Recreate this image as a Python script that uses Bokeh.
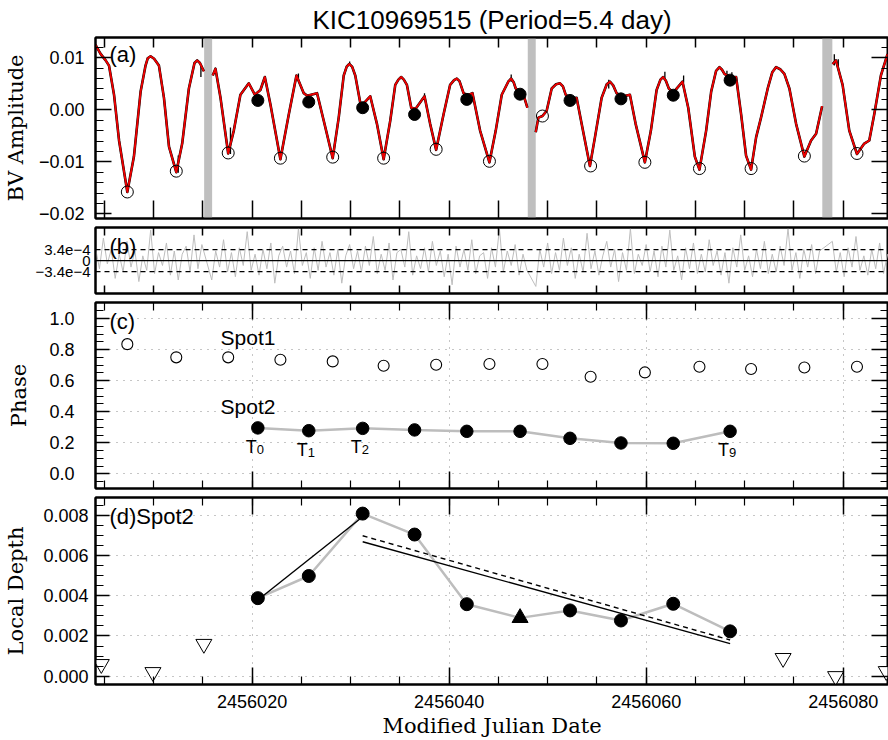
import numpy as np
from bokeh.plotting import figure
from bokeh.layouts import column
from bokeh.models import (Range1d, LinearAxis, SingleIntervalTicker, FixedTicker,
                          CustomJSTickFormatter, BoxAnnotation, Span, Label, Grid)
from bokeh.core.properties import value
from bokeh.embed import file_html
from bokeh.resources import INLINE

MJD0 = 2456000.0
TITLE = "KIC10969515 (Period=5.4 day)"

# ---------------- panel (a): light curve (days since MJD0, BV amplitude) -------------
lc1_day = [4.1, 4.6, 5.13, 5.47, 5.98, 6.49, 7.33, 8.0, 8.68, 9.18,
           9.4, 9.69, 10.05, 10.54, 11.05, 11.56, 12.30, 12.9, 13.58, 14.15,
           14.42, 14.7, 15.1]
lc1_amp = [0.0125, 0.0108, 0.0095, 0.0085, 0.0029, -0.0059, -0.0158, -0.0090, 0.0035, 0.0085,
           0.0099, 0.0103, 0.0098, 0.0085, 0.0023, -0.0071, -0.0120, -0.0065, 0.0041, 0.0090,
           0.0095, 0.0090, 0.0074]
lc2_day = [16.0, 16.28, 16.79, 17.57, 18.14, 18.81, 19.66, 20.27, 20.84, 21.29,
           21.86, 22.87, 23.72, 24.5, 25.24, 25.6, 26.59, 27.27, 28.18, 28.79,
           29.3, 29.6, 29.86, 30.15, 30.47, 30.98, 31.3, 31.99, 32.67, 33.35, 34.02, 34.53,
           34.85, 35.13, 35.4, 35.71, 36.15, 36.6, 37.5, 38.07, 38.68, 39.43, 40.1, 40.5,
           40.78, 41.05,
           41.46, 41.9, 42.37, 43.14, 44.09, 44.73, 45.34, 46.0, 46.29, 46.55, 46.76, 47.3,
           47.64, 47.94]
lc2_amp = [0.0066, 0.0079, 0.0023, -0.0084, -0.0040, 0.0029, 0.0051, 0.0029, 0.0038, 0.0063,
           0.0010, -0.0095, -0.0009, 0.0066, 0.0032, 0.0027, 0.0032, -0.0021, -0.0093, -0.0015,
           0.0066, 0.0083, 0.0088, 0.0083, 0.0066, 0.0013, 0.0012, 0.0026, -0.0027, -0.0095,
           -0.0021, 0.0048,
           0.0058, 0.0063, 0.0058, 0.0048, 0.0004, 0.0002, 0.0026, -0.0027, -0.0077, -0.0009,
           0.0048, 0.0057, 0.0060, 0.0055,
           0.0032, 0.0028, 0.0032, -0.0040, -0.0101, -0.0040, 0.0029, 0.0054, 0.0060, 0.0053,
           0.0041, 0.0032,
           0.0023, 0.0004]
lc3_day = [48.79, 49.06, 49.47, 49.9, 50.41, 50.85, 51.25, 51.55, 51.83, 52.3, 52.94, 53.45,
           54.29, 54.8, 55.48, 56.0, 56.32, 56.65, 57.0, 57.5, 58.35, 58.93, 59.87, 60.48,
           61.06, 61.45, 61.73, 62.0, 62.3, 62.75, 63.69, 64.27, 64.94, 65.41, 66.09, 66.6,
           67.1, 67.44, 67.7, 67.95, 68.52, 69.13, 69.64, 70.14, 70.65, 71.16, 71.66, 72.34,
           72.8, 73.19,
           73.6, 74.03, 74.54, 75.22, 76.06, 76.74, 77.25, 77.86]
lc3_amp = [-0.0043, -0.0015, -0.0012, -0.0002, 0.0041, 0.0049, 0.0051, 0.0045, 0.0029, 0.0022,
           0.0023, -0.0027,
           -0.0108, -0.0053, 0.0023, 0.0049, 0.0054, 0.0047, 0.0032, 0.0025, 0.0029, -0.0027,
           -0.0101, -0.0040,
           0.0038, 0.0058, 0.0063, 0.0056, 0.0041, 0.0033, 0.0054, 0.0004, -0.0090, -0.0115,
           -0.0040, 0.0035,
           0.0075, 0.0082, 0.0077, 0.0069, 0.0062, 0.0063, -0.0009, -0.0088, -0.0115, -0.0053,
           -0.0015, 0.0041, 0.0072, 0.0082,
           0.0078, 0.0069, 0.0041, -0.0027, -0.0090, -0.0059, -0.0046, 0.0007]
lc4_day = [78.93, 79.27, 79.94, 80.62, 81.4, 82.14, 82.65, 83.15, 83.83, 84.5]
lc4_amp = [0.0088, 0.0095, 0.0048, -0.0040, -0.0085, -0.0065, -0.0059, -0.0009, 0.0066, 0.0107]

# short excursions of the observed curve above/below the model
spike_day = [12.5, 14.8, 17.8, 24.7, 29.9, 37.5, 46.3, 56.2, 61.9, 63.8, 68.2, 68.7, 79.1, 79.5]
spike_lo = [-0.0121, 0.0063, -0.0085, 0.0060, 0.0086, 0.0022, 0.0054, 0.0041, 0.0058, 0.0052,
            0.0055, 0.0050, 0.0085, 0.0080]
spike_hi = [-0.0088, 0.0088, -0.0034, 0.0070, 0.0093, 0.0032, 0.0068, 0.0058, 0.0073, 0.0066,
            0.0075, 0.0072, 0.0107, 0.0097]

# data gaps (days since MJD0)
gap_start = [15.13, 47.98, 77.88]
gap_end = [15.94, 48.79, 78.90]

# spot 1 (light-curve minima) and spot 2 (shoulders)
spot1_day = [7.33, 12.30, 17.57, 22.87, 28.18, 33.35, 38.68, 44.09, 49.47, 54.36,
             59.87, 65.41, 70.65, 76.06, 81.40]
spot1_amp = [-0.0158, -0.0118, -0.0083, -0.0093, -0.0091, -0.0093, -0.0076, -0.0099, -0.0012,
             -0.0108, -0.0101, -0.0113, -0.0113, -0.0089, -0.0084]
spot1_phase = [0.835, 0.75, 0.75, 0.735, 0.724, 0.696, 0.702, 0.707, 0.707, 0.625,
               0.653, 0.690, 0.675, 0.685, 0.690]
spot2_day = [20.58, 25.75, 31.22, 36.49, 41.79, 47.2, 52.27, 57.44, 62.75, 68.52]
spot2_amp = [0.0018, 0.0015, 0.0004, -0.0009, 0.0020, 0.0030, 0.0018, 0.0021, 0.0028, 0.0057]
spot2_phase = [0.296, 0.278, 0.293, 0.283, 0.274, 0.274, 0.229, 0.199, 0.197, 0.274]
spot2_depth = [0.00388, 0.00498, 0.00808, 0.00704, 0.00358, 0.00290, 0.00327, 0.00277,
               0.00360, 0.00223]
TRI_INDEX = 5
t_label_index = [0, 1, 2, 9]
t_label_sub = ["0", "1", "2", "9"]

# spot1 local depth (open triangles)
spot1_depth_day = [4.69, 9.93, 15.10, 73.9, 79.23, 84.37]
spot1_depth = [0.0006, 0.0002, 0.0016, 0.0009, 0.0000, 0.00025]

# linear fits in panel (d)
fit1_day = [20.58, 31.22]
fit1_depth = [0.00379, 0.00792]
fit2_day = [31.22, 68.52]
fit2_depth = [0.00668, 0.00162]
fit3_day = [31.22, 68.52]
fit3_depth = [0.00698, 0.00180]

# ---------------- panel (b): residuals (units of 1e-5) --------------------------------
res_day = [4.1, 4.5, 4.9, 5.3, 5.7, 6.1, 6.5, 6.9, 7.3, 7.7, 8.1, 8.5, 8.9, 9.3, 9.7, 10.1,
           10.5, 10.9, 11.3, 11.7, 12.1, 12.5, 12.9, 13.3, 13.7, 14.1, 14.5, 14.9,
           15.9, 16.3, 16.7, 17.1, 17.5, 17.9, 18.3, 18.7, 19.1, 19.5,
           19.9, 20.3, 20.7, 21.1, 21.5, 21.9, 22.3, 22.7, 23.1, 23.5,
           23.9, 24.3, 24.7, 25.1, 25.5, 25.9, 26.3, 26.7, 27.1, 27.5,
           27.9, 28.3, 28.7, 29.1, 29.5, 29.9, 30.3, 30.7, 31.1, 31.5,
           31.9, 32.3, 32.7, 33.1, 33.5, 33.9, 34.3, 34.7, 35.1, 35.5,
           35.9, 36.3, 36.7, 37.1, 37.5, 37.9, 38.3, 38.7, 39.1, 39.5,
           39.9, 40.3, 40.7, 41.1, 41.5, 41.9, 42.3, 42.7, 43.1, 43.5,
           43.9, 44.3, 44.7, 45.1, 45.5, 45.9, 46.3, 46.7, 47.1, 47.5, 47.9,
           48.8, 49.2, 49.6, 50.0, 50.4, 50.8, 51.2, 51.6, 52.0, 52.4,
           52.8, 53.2, 53.6, 54.0, 54.4, 54.8, 55.2, 55.6, 56.0, 56.4,
           56.8, 57.2, 57.6, 58.0, 58.4, 58.8, 59.2, 59.6, 60.0, 60.4,
           60.8, 61.2, 61.6, 62.0, 62.4, 62.8, 63.2, 63.6, 64.0, 64.4,
           64.8, 65.2, 65.6, 66.0, 66.4, 66.8, 67.2, 67.6, 68.0, 68.4,
           68.8, 69.2, 69.6, 70.0, 70.4, 70.8, 71.2, 71.6, 72.0, 72.4,
           72.8, 73.2, 73.6, 74.0, 74.4, 74.8, 75.2, 75.6, 76.0, 76.4,
           76.8, 77.2, 77.6,
           78.9, 79.3, 79.7, 80.1, 80.5, 80.9, 81.3, 81.7, 82.1, 82.5, 82.9, 83.3, 83.7, 84.1, 84.5]
res_val = [40, -25, 70, -10, 35, -55, 20, -35, 60, -20, 30, -65, 15, -30, 95, -40, 25, -15,
           55, -45, 30, -60, 20, 45, -35, 80, -25, 50,
           -60, 30, -20, 65, -35, 25, -50, 40, -15, 90,
           -30, 20, -45, 35, -25, 55, -70, 15, 45, -20,
           30, -40, 100, -15, 25, -55, 40, -30, 60, -20,
           25, -45, 35, -70, 15, 50, -25, 30, -35, 45,
           -15, 75, -40, 20, -30, 55, -60, 25, 35, -20,
           90, -45, 15, -25, 40, -35, 60, -15, 30, -50,
           20, -75, 45, -20, 35, -30, 65, -40, 15, 25,
           -55, 40, -20, 100, -35, 30, -15, 50, -45, 20, -30,
           -80, 35, -20, 55, -40, 25, -30, 70, -15, 40,
           -55, 20, -35, 85, -25, 30, -45, 15, 60, -20,
           35, -65, 25, -30, 100, -40, 20, -15, 50, -35,
           30, -50, 45, -20, 95, -30, 15, -60, 40, -25,
           55, -40, 20, -35, 65, -15, 30, -45, 25, -70,
           40, -20, 80, -30, 15, -50, 35, -25, 60, -40,
           20, -35, 45, -15, 100, -30, 25, -55, 35, -20,
           50, -40, 30,
           60, -35, 25, -50, 40, -20, 75, -30, 15, -45, 35, -25, 55, -40, 20]
RES_SIGMA = 3.4e-4

# ---------------- styling ------------------------------------------------------------
SANS = "Liberation Sans"
SERIF = "DejaVu Serif"
W = 888
X_START, X_END = MJD0 + 4.1, MJD0 + 84.6
PX_DAY = (W - 93) / (X_END - X_START)
xr = Range1d(X_START, X_END)


def days(lst):
    return [MJD0 + d for d in lst]


def base_fig(height, y_range, top, bottom):
    p = figure(width=W, height=height, x_range=xr, y_range=y_range,
               x_axis_location=None, y_axis_location=None,
               output_backend="svg", toolbar_location=None,
               min_border_left=93, min_border_right=0,
               min_border_top=top, min_border_bottom=bottom)
    p.xgrid.visible = False
    p.ygrid.visible = False
    p.outline_line_color = "black"
    p.outline_line_width = 2
    p.background_fill_color = "white"
    p.border_fill_color = "white"
    return p


BLANK = "return ''"


def add_axis(p, side, ticker, major_in, minor_in, code=None, font_size="18px",
             standoff=8, label=None, label_standoff=10):
    ax = LinearAxis(ticker=ticker)
    ax.major_tick_in = major_in
    ax.major_tick_out = 0
    ax.minor_tick_in = minor_in
    ax.minor_tick_out = 0
    ax.axis_line_color = "black"
    ax.axis_line_width = 2
    ax.major_tick_line_color = "black"
    ax.major_tick_line_width = 1.5
    ax.minor_tick_line_color = "black"
    ax.minor_tick_line_width = 1.2
    if code is None:
        ax.formatter = CustomJSTickFormatter(code=BLANK)
        ax.major_label_text_font_size = "1px"
        ax.major_label_standoff = 0
    else:
        ax.formatter = CustomJSTickFormatter(code=code)
        ax.major_label_text_font = SANS
        ax.major_label_text_font_size = font_size
        ax.major_label_text_color = "black"
        ax.major_label_standoff = standoff
    if label is not None:
        ax.axis_label = label
        ax.axis_label_text_font = SERIF
        ax.axis_label_text_font_size = "21px"
        ax.axis_label_text_font_style = "normal"
        ax.axis_label_text_color = "black"
        ax.axis_label_standoff = label_standoff
    p.add_layout(ax, side)
    return ax


def panel_tag(p, text, y):
    p.add_layout(Label(x=X_START + 14 / PX_DAY, y=y, text=text, text_font=SANS,
                       text_font_size="22px", text_baseline="top", text_align="left",
                       text_color="black"))


AMP_FMT = "return (tick < 0 ? '\u2212' : '') + Math.abs(tick).toFixed(2);"
RES_FMT = ("if (Math.abs(tick) < 1e-12) return '0';"
           "return (tick < 0 ? '\u2212' : '') + (Math.abs(tick) / 1e-4).toFixed(1) + 'e\u22124';")

# ---------------- (a) ----------------------------------------------------------------
pa = base_fig(226, Range1d(-0.0209, 0.0139), 32, 8)
pa.title.text = TITLE
pa.title.text_font = SANS
pa.title.text_font_size = "26px"
pa.title.text_font_style = "normal"
pa.title.text_color = "black"
pa.title.align = "center"
pa.title.standoff = 5
add_axis(pa, "below", SingleIntervalTicker(interval=5, num_minor_ticks=0), 18, 0)
add_axis(pa, "above", SingleIntervalTicker(interval=5, num_minor_ticks=0), 10, 0)
add_axis(pa, "left", SingleIntervalTicker(interval=0.01, num_minor_ticks=5), 16, 8,
         code=AMP_FMT, standoff=11, label="BV Amplitude", label_standoff=8)
add_axis(pa, "right", SingleIntervalTicker(interval=0.01, num_minor_ticks=5), 17, 7)
for gs, ge in zip(gap_start, gap_end):
    pa.add_layout(BoxAnnotation(left=MJD0 + gs, right=MJD0 + ge, fill_color="#bfbfbf",
                                fill_alpha=1.0, line_alpha=0, level="underlay"))
seg_x = [days(lc1_day), days(lc2_day), days(lc3_day), days(lc4_day)]
seg_y = [lc1_amp, lc2_amp, lc3_amp, lc4_amp]
pa.multi_line(seg_x, seg_y, line_color="black", line_width=2.6, line_join="round")
pa.segment(x0=days(spike_day), y0=spike_lo, x1=days(spike_day), y1=spike_hi,
           line_color="black", line_width=1.3)
pa.multi_line(seg_x, seg_y, line_color="#ee0000", line_width=1.9, line_join="round")
pa.scatter(days(spot1_day), spot1_amp, marker="circle", size=12, fill_color=None,
           line_color="black", line_width=1)
pa.scatter(days(spot2_day), spot2_amp, marker="circle", size=12, fill_color="black",
           line_color="black")
panel_tag(pa, "(a)", 0.0139 - 5 * 0.0348 / 186)

# ---------------- (b) ----------------------------------------------------------------
pb = base_fig(71, Range1d(-1.02e-3, 1.03e-3), 1, 4)
add_axis(pb, "below", SingleIntervalTicker(interval=5, num_minor_ticks=0), 8, 0)
add_axis(pb, "above", SingleIntervalTicker(interval=5, num_minor_ticks=0), 8, 0)
add_axis(pb, "left", FixedTicker(ticks=[-RES_SIGMA, 0.0, RES_SIGMA]), 0, 0,
         code=RES_FMT, font_size="15px", standoff=5)
pb.line(days(res_day), [v * 1e-5 for v in res_val], line_color="#bdbdbd", line_width=1)
for loc in (RES_SIGMA, -RES_SIGMA):
    pb.add_layout(Span(location=loc, dimension="width", line_color="black",
                       line_dash="5 4", line_width=1.2))
pb.add_layout(Span(location=0, dimension="width", line_color="black", line_width=1.2))
panel_tag(pb, "(b)", 1.03e-3 - 6.5 * 2.05e-3 / 66)

# ---------------- (c) ----------------------------------------------------------------
pc = base_fig(196, Range1d(-0.094, 1.103), 5, 5)
xt_c = SingleIntervalTicker(interval=20, num_minor_ticks=4)
yt_c = SingleIntervalTicker(interval=0.2, num_minor_ticks=4)
add_axis(pc, "below", xt_c, 17, 8)
add_axis(pc, "above", xt_c, 17, 8)
add_axis(pc, "left", yt_c, 14, 8, code="return tick.toFixed(1);", standoff=21,
         label="Phase", label_standoff=15)
add_axis(pc, "right", yt_c, 17, 8)
for dim, tk in ((0, xt_c), (1, yt_c)):
    pc.add_layout(Grid(dimension=dim, ticker=tk, grid_line_color="#8c8c8c",
                       grid_line_dash="1 6", grid_line_width=1))
pc.line(days(spot2_day), spot2_phase, line_color="#bdbdbd", line_width=2.5)
pc.scatter(days(spot1_day), spot1_phase, marker="circle", size=11, fill_color="white",
           line_color="black", line_width=1.1)
pc.scatter(days(spot2_day), spot2_phase, marker="circle", size=12.5, fill_color="black",
           line_color="black")
pc.add_layout(Label(x=MJD0 + 16.8, y=0.804, text="Spot1", text_font=SANS,
                    text_font_size="21px", text_color="black"))
pc.add_layout(Label(x=MJD0 + 16.8, y=0.357, text="Spot2", text_font=SANS,
                    text_font_size="21px", text_color="black"))
tx = [MJD0 + spot2_day[i] for i in t_label_index]
ty = [spot2_phase[i] for i in t_label_index]
pc.text(tx, ty, text=["T"] * len(tx), text_font=value(SANS), text_font_size="18px",
        text_align="left", text_baseline="top", x_offset=-12, y_offset=9,
        text_color="black")
pc.text(tx, ty, text=t_label_sub, text_font=value(SANS), text_font_size="13px",
        text_align="left", text_baseline="top", x_offset=-1, y_offset=17,
        text_color="black")
panel_tag(pc, "(c)", 1.103 - 6 * 1.197 / 186)

# ---------------- (d) ----------------------------------------------------------------
pd_ = base_fig(247, Range1d(-0.00041, 0.00888), 4, 55)
xt_d = SingleIntervalTicker(interval=20, num_minor_ticks=4)
yt_d = SingleIntervalTicker(interval=0.002, num_minor_ticks=4)
add_axis(pd_, "below", xt_d, 17, 8, code="return tick.toFixed(0);", standoff=10,
         label="Modified Julian Date", label_standoff=3)
add_axis(pd_, "above", xt_d, 17, 8)
add_axis(pd_, "left", yt_d, 14, 8, code="return tick.toFixed(3);", standoff=7,
         label="Local Depth", label_standoff=12)
add_axis(pd_, "right", yt_d, 17, 8)
for dim, tk in ((0, xt_d), (1, yt_d)):
    pd_.add_layout(Grid(dimension=dim, ticker=tk, grid_line_color="#8c8c8c",
                        grid_line_dash="1 6", grid_line_width=1))
pd_.line(days(spot2_day), spot2_depth, line_color="#bdbdbd", line_width=2.5)
pd_.line(days(fit1_day), fit1_depth, line_color="black", line_width=1.4)
pd_.line(days(fit2_day), fit2_depth, line_color="black", line_width=1.4)
pd_.line(days(fit3_day), fit3_depth, line_color="black", line_width=1.4, line_dash="5 4")
circ_x = [MJD0 + d for i, d in enumerate(spot2_day) if i != TRI_INDEX]
circ_y = [v for i, v in enumerate(spot2_depth) if i != TRI_INDEX]
pd_.scatter(circ_x, circ_y, marker="circle", size=13, fill_color="black", line_color="black")
pd_.scatter([MJD0 + spot2_day[TRI_INDEX]], [spot2_depth[TRI_INDEX]], marker="triangle",
            size=16, fill_color="black", line_color="black")
pd_.scatter(days(spot1_depth_day), spot1_depth, marker="inverted_triangle", size=16,
            fill_color="white", line_color="black", line_width=1)
panel_tag(pd_, "(d)Spot2", 0.00888 - 7 * 0.00929 / 188)

layout = column(pa, pb, pc, pd_)
open("out.html", "w").write(file_html(layout, INLINE, title="KIC10969515"))
